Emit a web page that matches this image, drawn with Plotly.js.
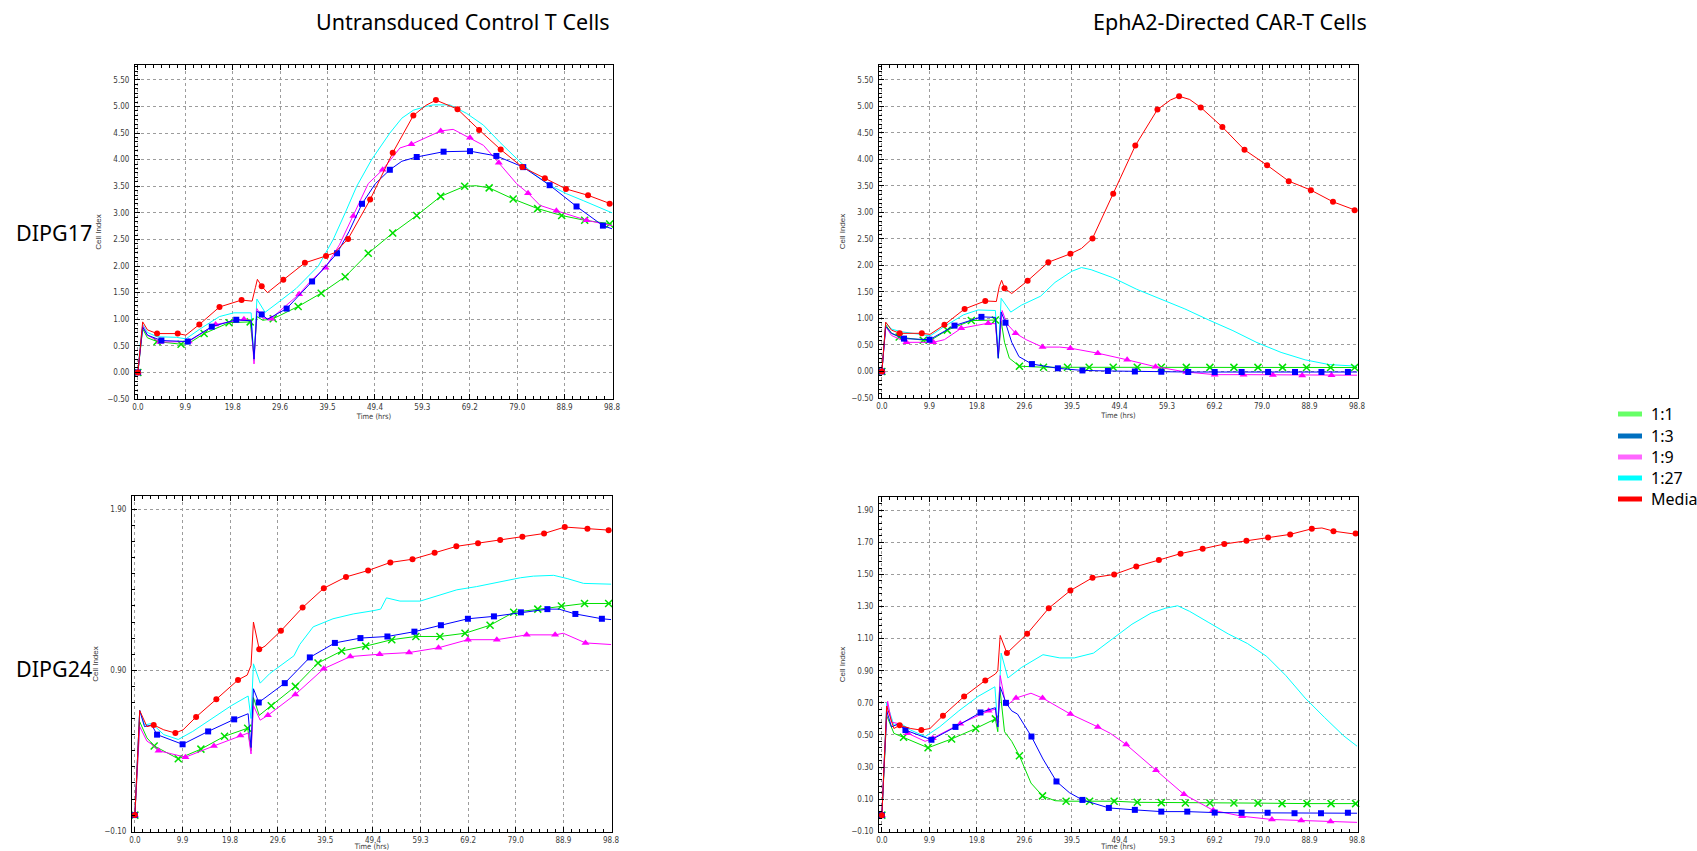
<!DOCTYPE html>
<html>
<head>
<meta charset="utf-8">
<script src="https://cdn.plot.ly/plotly-3.0.1.min.js"></script>
<style>
  html, body { margin: 0; padding: 0; background: #ffffff; }
  #chart { width: 1697px; height: 851px; }
</style>
</head>
<body>
<div id="chart"></div>
<script>
// ---------- labels ----------
const columnTitles = ['Untransduced Control T Cells', 'EphA2-Directed CAR-T Cells'];
const rowTitles = ['DIPG17', 'DIPG24'];
const conditions = ['1:1', '1:3', '1:9', '1:27', 'Media'];

// time axis ticks (hrs) and their printed labels
const timeTicks = [0, 9.88, 19.76, 29.64, 39.52, 49.4, 59.28, 69.16, 79.04, 88.92, 98.8];
const timeTickText = ['0.0', '9.9', '19.8', '29.6', '39.5', '49.4', '59.3', '69.2', '79.0', '88.9', '98.8'];

// ---------- DIPG17, untransduced control T cells ----------
const ctl17_media_t  = [0, 0.5, 1.0, 2.0, 4.0, 8.3, 10.0, 12.8, 17.0, 21.6, 23.8, 24.5, 24.9, 25.8, 27.0, 30.3, 34.8, 39.2, 41.0, 43.8, 48.4, 53.1, 57.4, 60.0, 62.1, 66.6, 71.1, 75.6, 80.1, 84.8, 89.2, 93.8, 98.3, 98.8];
const ctl17_media_ci = [0, 0.55, 0.95, 0.80, 0.73, 0.73, 0.70, 0.90, 1.23, 1.36, 1.34, 1.60, 1.75, 1.62, 1.50, 1.74, 2.06, 2.19, 2.25, 2.51, 3.25, 4.13, 4.83, 5.02, 5.12, 4.95, 4.56, 4.19, 3.86, 3.65, 3.45, 3.33, 3.17, 3.16];
const ctl17_media_mt  = [0, 4.0, 8.3, 12.8, 17.0, 21.6, 25.8, 30.3, 34.8, 39.2, 43.8, 48.4, 53.1, 57.4, 62.1, 66.6, 71.1, 75.6, 80.1, 84.8, 89.2, 93.8, 98.3];
const ctl17_media_mci = [0, 0.73, 0.73, 0.90, 1.23, 1.36, 1.62, 1.74, 2.06, 2.19, 2.51, 3.25, 4.13, 4.83, 5.12, 4.95, 4.56, 4.19, 3.86, 3.65, 3.45, 3.33, 3.17];

const ctl17_r27_t  = [0, 0.5, 1.0, 2.0, 4.0, 8.0, 10.0, 13.0, 17.0, 20.0, 23.6, 24.2, 24.8, 26.5, 29.0, 33.0, 37.6, 40.7, 43.2, 45.6, 48.7, 52.5, 55.0, 57.4, 60.0, 61.6, 65.0, 68.5, 72.0, 75.4, 79.6, 82.4, 85.8, 89.3, 92.8, 98.8];
const ctl17_r27_ci = [0, 0.55, 0.90, 0.75, 0.67, 0.66, 0.63, 0.82, 1.05, 1.12, 1.12, 0.22, 1.38, 1.13, 1.30, 1.58, 2.00, 2.50, 3.00, 3.50, 4.00, 4.50, 4.78, 4.93, 5.00, 5.03, 5.03, 4.87, 4.65, 4.33, 3.96, 3.74, 3.52, 3.36, 3.23, 3.00];

const ctl17_r9_t  = [0, 0.5, 1.0, 2.0, 4.6, 10.6, 13.5, 16.2, 22.1, 23.6, 24.2, 24.8, 26.0, 27.8, 29.5, 33.6, 36.0, 39.1, 42.0, 44.9, 48.0, 51.0, 54.6, 57.0, 63.1, 65.7, 69.2, 72.0, 75.2, 78.9, 81.3, 83.8, 87.2, 93.5, 98.8];
const ctl17_r9_ci = [0, 0.5, 0.88, 0.70, 0.57, 0.58, 0.75, 0.90, 1.00, 0.97, 0.16, 1.20, 1.02, 1.01, 1.15, 1.47, 1.72, 1.97, 2.40, 2.94, 3.55, 3.81, 4.22, 4.29, 4.54, 4.57, 4.41, 4.27, 3.94, 3.55, 3.37, 3.14, 3.04, 2.86, 2.76];
const ctl17_r9_mt  = [0, 4.6, 10.6, 16.2, 22.1, 27.8, 33.6, 39.1, 44.9, 51.0, 57.0, 63.1, 69.2, 75.2, 81.3, 87.2, 93.5];
const ctl17_r9_mci = [0, 0.57, 0.58, 0.90, 1.00, 1.01, 1.47, 1.97, 2.94, 3.81, 4.29, 4.54, 4.41, 3.94, 3.37, 3.04, 2.86];

const ctl17_r3_t  = [0, 0.5, 1.0, 2.0, 4.9, 10.4, 15.4, 20.5, 23.6, 24.2, 24.8, 25.8, 27.0, 31.0, 36.3, 41.5, 44.0, 46.7, 49.5, 52.5, 55.0, 58.1, 63.7, 69.2, 74.7, 80.3, 85.8, 91.4, 96.9, 98.8];
const ctl17_r3_ci = [0, 0.5, 0.85, 0.70, 0.60, 0.58, 0.86, 0.99, 0.97, 0.25, 1.15, 1.09, 1.00, 1.20, 1.71, 2.24, 2.65, 3.17, 3.55, 3.81, 3.97, 4.05, 4.15, 4.16, 4.07, 3.86, 3.52, 3.12, 2.76, 2.70];
const ctl17_r3_mt  = [0, 4.9, 10.4, 15.4, 20.5, 25.8, 31.0, 36.3, 41.5, 46.7, 52.5, 58.1, 63.7, 69.2, 74.7, 80.3, 85.8, 91.4, 96.9];
const ctl17_r3_mci = [0, 0.60, 0.58, 0.86, 0.99, 1.09, 1.20, 1.71, 2.24, 3.17, 3.81, 4.05, 4.15, 4.16, 4.07, 3.86, 3.52, 3.12, 2.76];

const ctl17_r1_t  = [0, 0.5, 1.0, 2.0, 4.0, 9.0, 10.5, 13.8, 19.0, 23.4, 24.2, 24.8, 26.0, 28.2, 33.4, 38.2, 43.2, 48.0, 53.1, 58.1, 63.1, 68.1, 70.5, 73.2, 78.2, 83.3, 88.3, 93.1, 98.3, 98.8];
const ctl17_r1_ci = [0, 0.45, 0.82, 0.65, 0.58, 0.53, 0.54, 0.73, 0.935, 0.95, 0.30, 1.05, 0.98, 1.01, 1.24, 1.49, 1.80, 2.24, 2.62, 2.95, 3.31, 3.50, 3.51, 3.47, 3.26, 3.08, 2.95, 2.86, 2.79, 2.79];
const ctl17_r1_mt  = [0, 4.0, 9.0, 13.8, 19.0, 23.4, 28.2, 33.4, 38.2, 43.2, 48.0, 53.1, 58.1, 63.1, 68.1, 73.2, 78.2, 83.3, 88.3, 93.1, 98.3];
const ctl17_r1_mci = [0, 0.58, 0.53, 0.73, 0.935, 0.95, 1.01, 1.24, 1.49, 1.80, 2.24, 2.62, 2.95, 3.31, 3.50, 3.47, 3.26, 3.08, 2.95, 2.86, 2.79];

// ---------- DIPG17, EphA2-directed CAR-T cells ----------
const car17_media_t  = [0, 0.5, 0.8, 2.0, 3.7, 8.3, 10.0, 13.0, 17.2, 21.5, 23.8, 24.4, 24.9, 25.5, 27.0, 30.3, 34.6, 39.2, 41.5, 43.8, 48.1, 52.7, 57.3, 60.0, 61.8, 64.0, 66.3, 70.8, 75.4, 80.1, 84.6, 89.2, 93.8, 98.3, 98.8];
const car17_media_ci = [0, 0.6, 0.93, 0.78, 0.72, 0.72, 0.70, 0.88, 1.18, 1.33, 1.32, 1.60, 1.72, 1.57, 1.47, 1.71, 2.06, 2.22, 2.32, 2.51, 3.35, 4.26, 4.94, 5.12, 5.19, 5.13, 4.98, 4.61, 4.18, 3.89, 3.59, 3.42, 3.20, 3.04, 3.03];
const car17_media_mt  = [0, 3.7, 8.3, 13.0, 17.2, 21.5, 25.5, 30.3, 34.6, 39.2, 43.8, 48.1, 52.7, 57.3, 61.8, 66.3, 70.8, 75.4, 80.1, 84.6, 89.2, 93.8, 98.3];
const car17_media_mci = [0, 0.72, 0.72, 0.88, 1.18, 1.33, 1.57, 1.71, 2.06, 2.22, 2.51, 3.35, 4.26, 4.94, 5.19, 4.98, 4.61, 4.18, 3.89, 3.59, 3.42, 3.20, 3.04];

const car17_r27_t  = [0, 0.5, 0.8, 2.0, 4.0, 8.0, 10.0, 13.0, 17.0, 20.0, 23.6, 24.2, 24.8, 26.8, 29.0, 33.0, 36.0, 39.5, 41.5, 43.5, 48.0, 53.0, 58.0, 63.0, 68.0, 73.0, 78.0, 83.0, 88.0, 93.0, 98.8];
const car17_r27_ci = [0, 0.6, 0.92, 0.80, 0.75, 0.70, 0.67, 0.85, 1.07, 1.16, 1.15, 0.28, 1.38, 1.12, 1.25, 1.42, 1.68, 1.89, 1.96, 1.92, 1.77, 1.55, 1.36, 1.18, 0.97, 0.77, 0.545, 0.36, 0.22, 0.13, 0.10];

const car17_r9_t  = [0, 0.5, 0.8, 2.0, 5.1, 10.7, 13.0, 16.5, 22.1, 23.6, 24.2, 25.0, 26.0, 27.8, 30.0, 33.4, 37.0, 39.2, 44.9, 51.0, 56.9, 63.3, 69.2, 75.2, 81.3, 87.4, 93.5, 98.8];
const car17_r9_ci = [0, 0.55, 0.85, 0.68, 0.55, 0.55, 0.60, 0.815, 0.91, 0.90, 0.30, 1.15, 0.90, 0.72, 0.60, 0.46, 0.46, 0.44, 0.345, 0.22, 0.09, -0.01, -0.06, -0.06, -0.065, -0.075, -0.07, -0.07];
const car17_r9_mt  = [0, 5.1, 10.7, 16.5, 22.1, 27.8, 33.4, 39.2, 44.9, 51.0, 56.9, 63.3, 69.2, 75.2, 81.3, 87.4, 93.5];
const car17_r9_mci = [0, 0.55, 0.55, 0.815, 0.91, 0.72, 0.46, 0.44, 0.345, 0.22, 0.09, -0.01, -0.06, -0.06, -0.065, -0.075, -0.07];

const car17_r3_t  = [0, 0.5, 0.8, 2.0, 4.6, 9.9, 15.1, 20.7, 23.6, 24.2, 24.8, 25.7, 27.0, 28.5, 31.2, 36.6, 41.7, 47.0, 52.6, 58.1, 63.7, 98.8];
const car17_r3_ci = [0, 0.55, 0.85, 0.72, 0.62, 0.60, 0.865, 1.03, 1.02, 0.25, 1.12, 0.92, 0.55, 0.28, 0.14, 0.06, 0.02, 0.01, 0.0, -0.005, -0.01, -0.01];
const car17_r3_mt  = [0, 4.6, 9.9, 15.1, 20.7, 25.7, 31.2, 36.6, 41.7, 47.0, 52.6, 58.1, 63.7, 69.2, 74.8, 80.3, 85.9, 91.4, 96.9];
const car17_r3_mci = [0, 0.62, 0.60, 0.865, 1.03, 0.92, 0.14, 0.06, 0.02, 0.01, 0.0, -0.005, -0.01, -0.01, -0.01, -0.01, -0.01, -0.01, -0.01];

const car17_r1_t  = [0, 0.5, 0.8, 2.0, 3.6, 8.6, 10.0, 13.6, 18.6, 23.6, 24.2, 24.8, 25.5, 26.5, 28.6, 33.6, 38.6, 63.3, 98.8];
const car17_r1_ci = [0, 0.58, 0.88, 0.72, 0.65, 0.59, 0.58, 0.78, 0.96, 0.97, 0.25, 0.95, 0.55, 0.25, 0.10, 0.08, 0.08, 0.078, 0.075];
const car17_r1_mt  = [0, 3.6, 8.6, 13.6, 18.6, 23.6, 28.6, 33.6, 38.6, 43.1, 48.1, 53.1, 58.1, 63.3, 68.2, 73.2, 78.2, 83.3, 88.3, 93.3, 98.3];
const car17_r1_mci = [0, 0.65, 0.59, 0.78, 0.96, 0.97, 0.10, 0.08, 0.08, 0.08, 0.08, 0.08, 0.08, 0.078, 0.078, 0.078, 0.077, 0.077, 0.076, 0.076, 0.075];

// ---------- DIPG24, untransduced control T cells ----------
const ctl24_media_t  = [0, 0.5, 1.0, 2.5, 3.9, 6.0, 8.4, 10.0, 12.7, 16.9, 21.4, 23.3, 24.1, 24.6, 25.8, 27.0, 30.3, 34.8, 39.2, 43.8, 48.4, 53.0, 57.6, 62.2, 66.7, 71.2, 75.8, 80.4, 84.9, 89.2, 93.9, 98.3, 98.8];
const ctl24_media_ci = [0, 0.35, 0.65, 0.55, 0.56, 0.53, 0.51, 0.53, 0.61, 0.72, 0.84, 0.87, 0.93, 1.20, 1.03, 1.05, 1.145, 1.29, 1.41, 1.48, 1.52, 1.57, 1.59, 1.63, 1.67, 1.69, 1.71, 1.73, 1.75, 1.79, 1.78, 1.77, 1.77];
const ctl24_media_mt  = [0, 3.9, 8.4, 12.7, 16.9, 21.4, 25.8, 30.3, 34.8, 39.2, 43.8, 48.4, 53.0, 57.6, 62.2, 66.7, 71.2, 75.8, 80.4, 84.9, 89.2, 93.9, 98.3];
const ctl24_media_mci = [0, 0.56, 0.51, 0.61, 0.72, 0.84, 1.03, 1.145, 1.29, 1.41, 1.48, 1.52, 1.57, 1.59, 1.63, 1.67, 1.69, 1.71, 1.73, 1.75, 1.79, 1.78, 1.77];

const ctl24_r27_t  = [0, 0.5, 1.0, 2.0, 3.5, 6.0, 9.0, 12.0, 16.0, 20.0, 23.5, 24.1, 24.6, 26.0, 28.0, 33.0, 34.2, 37.0, 41.1, 45.3, 49.4, 51.0, 52.2, 55.0, 59.2, 63.3, 66.8, 70.9, 75.8, 80.0, 82.7, 86.9, 89.7, 93.1, 98.8];
const ctl24_r27_ci = [0, 0.35, 0.65, 0.56, 0.57, 0.50, 0.47, 0.52, 0.60, 0.68, 0.74, 0.60, 0.94, 0.82, 0.88, 0.99, 1.06, 1.17, 1.22, 1.25, 1.27, 1.28, 1.35, 1.33, 1.33, 1.37, 1.40, 1.42, 1.45, 1.475, 1.485, 1.49, 1.47, 1.44, 1.435];

const ctl24_r9_t  = [0, 0.5, 1.0, 2.5, 3.5, 4.9, 10.5, 16.4, 21.9, 23.5, 24.1, 24.6, 26.0, 27.6, 33.3, 39.2, 44.7, 50.8, 56.9, 63.0, 69.1, 75.1, 81.3, 87.2, 88.9, 93.5, 98.8];
const ctl24_r9_ci = [0, 0.28, 0.55, 0.46, 0.44, 0.40, 0.36, 0.43, 0.495, 0.51, 0.38, 0.68, 0.59, 0.62, 0.75, 0.91, 0.985, 1.00, 1.01, 1.04, 1.09, 1.09, 1.12, 1.12, 1.13, 1.07, 1.06];
const ctl24_r9_mt  = [0, 4.9, 10.5, 16.4, 21.9, 27.6, 33.3, 39.2, 44.7, 50.8, 56.9, 63.0, 69.1, 75.1, 81.3, 87.2, 93.5];
const ctl24_r9_mci = [0, 0.40, 0.36, 0.43, 0.495, 0.62, 0.75, 0.91, 0.985, 1.00, 1.01, 1.04, 1.09, 1.09, 1.12, 1.12, 1.07];

const ctl24_r3_t  = [0, 0.5, 1.0, 2.0, 3.5, 4.6, 9.9, 15.2, 20.6, 23.5, 24.1, 24.6, 25.7, 31.1, 36.3, 41.5, 46.8, 52.4, 58.0, 63.5, 69.1, 74.5, 80.1, 85.6, 88.0, 91.4, 96.9, 98.8];
const ctl24_r3_ci = [0, 0.35, 0.65, 0.55, 0.56, 0.50, 0.44, 0.52, 0.595, 0.63, 0.42, 0.785, 0.70, 0.82, 0.98, 1.07, 1.10, 1.11, 1.14, 1.18, 1.22, 1.235, 1.26, 1.28, 1.28, 1.25, 1.22, 1.215];
const ctl24_r3_mt  = [0, 4.6, 9.9, 15.2, 20.6, 25.7, 31.1, 36.3, 41.5, 46.8, 52.4, 58.0, 63.5, 69.1, 74.5, 80.1, 85.6, 91.4, 96.9];
const ctl24_r3_mci = [0, 0.50, 0.44, 0.52, 0.595, 0.70, 0.82, 0.98, 1.07, 1.10, 1.11, 1.14, 1.18, 1.22, 1.235, 1.26, 1.28, 1.25, 1.22];

const ctl24_r1_t  = [0, 0.5, 1.0, 2.5, 3.5, 4.0, 9.0, 13.7, 18.6, 23.4, 24.1, 24.6, 25.8, 28.3, 33.3, 38.0, 42.9, 47.9, 53.3, 58.3, 63.3, 68.5, 73.7, 78.6, 83.6, 88.5, 93.3, 98.8];
const ctl24_r1_ci = [0, 0.30, 0.58, 0.48, 0.45, 0.43, 0.35, 0.41, 0.49, 0.54, 0.40, 0.73, 0.62, 0.68, 0.80, 0.945, 1.02, 1.05, 1.09, 1.11, 1.11, 1.13, 1.18, 1.26, 1.28, 1.30, 1.315, 1.315];
const ctl24_r1_mt  = [0, 4.0, 9.0, 13.7, 18.6, 23.4, 28.3, 33.3, 38.0, 42.9, 47.9, 53.3, 58.3, 63.3, 68.5, 73.7, 78.6, 83.6, 88.5, 93.3, 98.3];
const ctl24_r1_mci = [0, 0.43, 0.35, 0.41, 0.49, 0.54, 0.68, 0.80, 0.945, 1.02, 1.05, 1.09, 1.11, 1.11, 1.13, 1.18, 1.26, 1.28, 1.30, 1.315, 1.315];

// ---------- DIPG24, EphA2-directed CAR-T cells ----------
const car24_media_t  = [0, 0.5, 1.0, 2.5, 3.7, 6.0, 8.2, 10.0, 12.7, 17.1, 21.5, 23.6, 24.1, 24.6, 26.0, 30.2, 34.7, 39.2, 43.8, 48.3, 52.9, 57.6, 62.1, 66.7, 71.2, 75.8, 80.3, 84.9, 89.4, 91.5, 93.9, 98.5, 98.8];
const car24_media_ci = [0, 0.35, 0.68, 0.54, 0.56, 0.54, 0.53, 0.54, 0.62, 0.74, 0.84, 0.88, 0.90, 1.12, 1.01, 1.13, 1.29, 1.40, 1.48, 1.50, 1.55, 1.59, 1.63, 1.66, 1.69, 1.71, 1.73, 1.75, 1.785, 1.79, 1.77, 1.755, 1.75];
const car24_media_mt  = [0, 3.7, 8.2, 12.7, 17.1, 21.5, 26.0, 30.2, 34.7, 39.2, 43.8, 48.3, 52.9, 57.6, 62.1, 66.7, 71.2, 75.8, 80.3, 84.9, 89.4, 93.9, 98.5];
const car24_media_mci = [0, 0.56, 0.53, 0.62, 0.74, 0.84, 1.01, 1.13, 1.29, 1.40, 1.48, 1.50, 1.55, 1.59, 1.63, 1.66, 1.69, 1.71, 1.73, 1.75, 1.785, 1.77, 1.755];

const car24_r27_t  = [0, 0.5, 1.0, 2.5, 4.0, 6.0, 9.0, 12.0, 16.0, 20.0, 23.5, 24.1, 24.8, 26.2, 29.0, 33.5, 37.0, 40.0, 44.0, 48.0, 52.0, 56.0, 59.0, 61.5, 64.0, 68.0, 72.0, 76.0, 80.0, 84.0, 88.0, 92.0, 96.0, 98.8];
const car24_r27_ci = [0, 0.35, 0.70, 0.56, 0.57, 0.53, 0.49, 0.55, 0.65, 0.74, 0.80, 0.55, 1.01, 0.855, 0.92, 1.00, 0.98, 0.98, 1.01, 1.10, 1.19, 1.26, 1.29, 1.305, 1.27, 1.20, 1.13, 1.07, 0.99, 0.87, 0.73, 0.61, 0.495, 0.43];

const car24_r9_t  = [0, 0.5, 1.2, 2.0, 3.5, 5.4, 9.0, 10.6, 16.3, 22.2, 23.6, 24.1, 24.6, 25.8, 27.9, 31.0, 33.4, 39.2, 44.9, 47.5, 50.8, 57.0, 62.8, 68.9, 74.9, 81.1, 87.2, 93.3, 98.8];
const car24_r9_ci = [0, 0.35, 0.71, 0.58, 0.57, 0.51, 0.46, 0.48, 0.57, 0.65, 0.66, 0.55, 0.87, 0.68, 0.73, 0.76, 0.73, 0.63, 0.55, 0.51, 0.44, 0.28, 0.13, 0.03, -0.007, -0.027, -0.033, -0.04, -0.045];
const car24_r9_mt  = [0, 5.4, 10.6, 16.3, 22.2, 27.9, 33.4, 39.2, 44.9, 50.8, 57.0, 62.8, 68.9, 74.9, 81.1, 87.2, 93.3];
const car24_r9_mci = [0, 0.51, 0.48, 0.57, 0.65, 0.73, 0.73, 0.63, 0.55, 0.44, 0.28, 0.13, 0.03, -0.007, -0.027, -0.033, -0.04];

const car24_r3_t  = [0, 0.5, 1.0, 2.0, 3.5, 4.9, 10.3, 15.3, 20.5, 23.6, 24.1, 24.6, 25.8, 27.0, 28.2, 31.1, 33.5, 36.3, 39.0, 41.7, 47.2, 52.6, 58.1, 63.5, 69.2, 74.8, 80.2, 85.8, 91.3, 96.9, 98.8];
const car24_r3_ci = [0, 0.35, 0.65, 0.55, 0.57, 0.53, 0.47, 0.55, 0.64, 0.67, 0.55, 0.80, 0.70, 0.65, 0.63, 0.49, 0.35, 0.21, 0.14, 0.095, 0.045, 0.033, 0.022, 0.022, 0.016, 0.015, 0.015, 0.012, 0.012, 0.015, 0.012];
const car24_r3_mt  = [0, 4.9, 10.3, 15.3, 20.5, 25.8, 31.1, 36.3, 41.7, 47.2, 52.6, 58.1, 63.5, 69.2, 74.8, 80.2, 85.8, 91.3, 96.9];
const car24_r3_mci = [0, 0.53, 0.47, 0.55, 0.64, 0.70, 0.49, 0.21, 0.095, 0.045, 0.033, 0.022, 0.022, 0.016, 0.015, 0.015, 0.012, 0.012, 0.015];

const car24_r1_t  = [0, 0.5, 1.0, 2.5, 4.5, 9.6, 14.5, 19.5, 23.6, 24.1, 24.5, 25.5, 27.0, 28.6, 31.0, 33.4, 36.0, 38.3, 43.2, 48.3, 53.1, 58.1, 63.1, 68.2, 73.2, 78.2, 83.2, 88.4, 93.4, 98.8];
const car24_r1_ci = [0, 0.30, 0.62, 0.51, 0.485, 0.42, 0.475, 0.54, 0.60, 0.52, 0.80, 0.52, 0.46, 0.37, 0.20, 0.12, 0.09, 0.087, 0.087, 0.087, 0.08, 0.078, 0.076, 0.076, 0.076, 0.075, 0.072, 0.072, 0.072, 0.072];
const car24_r1_mt  = [0, 4.5, 9.6, 14.5, 19.5, 23.6, 28.6, 33.4, 38.3, 43.2, 48.3, 53.1, 58.1, 63.1, 68.2, 73.2, 78.2, 83.2, 88.4, 93.4, 98.5];
const car24_r1_mci = [0, 0.485, 0.42, 0.475, 0.54, 0.60, 0.37, 0.12, 0.087, 0.087, 0.087, 0.08, 0.078, 0.076, 0.076, 0.076, 0.075, 0.072, 0.072, 0.072, 0.072];

// ---------- styling ----------
const STYLE = {
  '1:1':   { line: '#00e000', symbol: 'x-thin-open', size: 7, swatch: '#66ff66' },
  '1:3':   { line: '#0000ff', symbol: 'square',      size: 6, swatch: '#0070c0' },
  '1:9':   { line: '#ff00ff', symbol: 'triangle-up', size: 7, swatch: '#ff66ff' },
  '1:27':  { line: '#00ffff', symbol: null,          size: 0, swatch: '#00ffff' },
  'Media': { line: '#ff0000', symbol: 'circle',      size: 6, swatch: '#ff0000' }
};
const DRAW_ORDER = ['1:27', '1:1', '1:9', '1:3', 'Media'];

const panels = [
  { x: 'x',  y: 'y',  series: {
      '1:1':   [ctl17_r1_t, ctl17_r1_ci, ctl17_r1_mt, ctl17_r1_mci],
      '1:3':   [ctl17_r3_t, ctl17_r3_ci, ctl17_r3_mt, ctl17_r3_mci],
      '1:9':   [ctl17_r9_t, ctl17_r9_ci, ctl17_r9_mt, ctl17_r9_mci],
      '1:27':  [ctl17_r27_t, ctl17_r27_ci],
      'Media': [ctl17_media_t, ctl17_media_ci, ctl17_media_mt, ctl17_media_mci] } },
  { x: 'x2', y: 'y2', series: {
      '1:1':   [car17_r1_t, car17_r1_ci, car17_r1_mt, car17_r1_mci],
      '1:3':   [car17_r3_t, car17_r3_ci, car17_r3_mt, car17_r3_mci],
      '1:9':   [car17_r9_t, car17_r9_ci, car17_r9_mt, car17_r9_mci],
      '1:27':  [car17_r27_t, car17_r27_ci],
      'Media': [car17_media_t, car17_media_ci, car17_media_mt, car17_media_mci] } },
  { x: 'x3', y: 'y3', series: {
      '1:1':   [ctl24_r1_t, ctl24_r1_ci, ctl24_r1_mt, ctl24_r1_mci],
      '1:3':   [ctl24_r3_t, ctl24_r3_ci, ctl24_r3_mt, ctl24_r3_mci],
      '1:9':   [ctl24_r9_t, ctl24_r9_ci, ctl24_r9_mt, ctl24_r9_mci],
      '1:27':  [ctl24_r27_t, ctl24_r27_ci],
      'Media': [ctl24_media_t, ctl24_media_ci, ctl24_media_mt, ctl24_media_mci] } },
  { x: 'x4', y: 'y4', series: {
      '1:1':   [car24_r1_t, car24_r1_ci, car24_r1_mt, car24_r1_mci],
      '1:3':   [car24_r3_t, car24_r3_ci, car24_r3_mt, car24_r3_mci],
      '1:9':   [car24_r9_t, car24_r9_ci, car24_r9_mt, car24_r9_mci],
      '1:27':  [car24_r27_t, car24_r27_ci],
      'Media': [car24_media_t, car24_media_ci, car24_media_mt, car24_media_mci] } }
];

const traces = [];
panels.forEach(p => {
  DRAW_ORDER.forEach(cond => {
    const s = STYLE[cond];
    const d = p.series[cond];
    traces.push({
      type: 'scatter', mode: 'lines', name: cond, showlegend: false,
      x: d[0], y: d[1], xaxis: p.x, yaxis: p.y,
      line: { color: s.line, width: 1 }, hoverinfo: 'skip'
    });
    if (s.symbol && d[2]) {
      traces.push({
        type: 'scatter', mode: 'markers', name: cond, showlegend: false,
        x: d[2], y: d[3], xaxis: p.x, yaxis: p.y, cliponaxis: false,
        marker: { symbol: s.symbol, size: s.size, color: s.line,
                  line: { color: s.line, width: s.symbol === 'x-thin-open' ? 1.5 : 0 } },
        hoverinfo: 'skip'
      });
    }
  });
});

// ---------- layout ----------
const W = 1697, H = 851;
const fx = v => v / W;          // pixel -> paper (x)
const fy = v => 1 - v / H;      // pixel -> paper (y)

const NARROW = 'Liberation Sans Narrow, DejaVu Sans Condensed, Arial Narrow, sans-serif';
const tickFont = { family: NARROW, size: 8, color: '#3a3a3a' };
const timeTitleFont = { family: NARROW, size: 7.5, color: '#3a3a3a' };
const ciTitleFont = { family: 'Liberation Sans, Arial, sans-serif', size: 8, color: '#3a3a3a' };

function timeAxis(domain, anchor) {
  return {
    domain: domain, anchor: anchor, range: [-0.6, 99.0],
    tickmode: 'array', tickvals: timeTicks, ticktext: timeTickText,
    ticks: 'inside', ticklen: 5, tickcolor: '#000', tickwidth: 1,
    showline: true, linecolor: '#000', linewidth: 1, mirror: 'ticks',
    showgrid: true, gridcolor: '#9c9c9c', griddash: 'dot', gridwidth: 1,
    zeroline: false, tickfont: tickFont,
    minor: { tick0: 0, dtick: 9.88 / 6, ticks: 'inside', ticklen: 3, tickcolor: '#000', showgrid: false },
    title: { text: 'Time (hrs)', font: timeTitleFont, standoff: 1 },
    fixedrange: true
  };
}
function ciAxis(domain, anchor, range, tick0, dtick, minorStep) {
  return {
    domain: domain, anchor: anchor, range: range,
    tickmode: 'linear', tick0: tick0, dtick: dtick, tickformat: '.2f',
    ticks: 'inside', ticklen: 5, tickcolor: '#000', tickwidth: 1,
    showline: true, linecolor: '#000', linewidth: 1, mirror: true,
    showgrid: true, gridcolor: '#9c9c9c', griddash: 'dot', gridwidth: 1,
    zeroline: false, tickfont: tickFont, ticklabelstandoff: 3,
    minor: { tick0: tick0, dtick: minorStep, ticks: 'inside', ticklen: 3, tickcolor: '#000', showgrid: false },
    title: { text: 'Cell Index', font: ciTitleFont, standoff: 4 },
    fixedrange: true
  };
}

const annotations = [
  { text: columnTitles[0], x: fx(463), y: fy(21) },
  { text: columnTitles[1], x: fx(1230), y: fy(21) },
  { text: rowTitles[0], x: fx(54), y: fy(232) },
  { text: rowTitles[1], x: fx(54), y: fy(668) }
].map(a => Object.assign({
  xref: 'paper', yref: 'paper', xanchor: 'center', yanchor: 'middle', showarrow: false,
  font: { family: 'Noto Sans, Open Sans, sans-serif', size: 21.5, color: '#000' }
}, a));

// legend: coloured bars with labels to the right of the panels
const legendRowsY = [414, 436, 457, 478, 499];
const shapes = [];
conditions.forEach((cond, i) => {
  shapes.push({
    type: 'line', xref: 'paper', yref: 'paper',
    x0: fx(1618), x1: fx(1642), y0: fy(legendRowsY[i]), y1: fy(legendRowsY[i]),
    line: { color: STYLE[cond].swatch, width: 5 }
  });
  annotations.push({
    text: cond, xref: 'paper', yref: 'paper', x: fx(1649), y: fy(legendRowsY[i]),
    xanchor: 'left', yanchor: 'middle', showarrow: false,
    font: { family: 'Noto Sans, Open Sans, sans-serif', size: 16, color: '#000' }
  });
});

const layout = {
  width: W, height: H, autosize: false,
  margin: { l: 0, r: 0, t: 0, b: 0, pad: 0 },
  paper_bgcolor: '#ffffff', plot_bgcolor: '#ffffff',
  showlegend: false,
  xaxis:  timeAxis([fx(135), fx(613)], 'y'),
  xaxis2: timeAxis([fx(879), fx(1358)], 'y2'),
  xaxis3: timeAxis([fx(132), fx(612)], 'y3'),
  xaxis4: timeAxis([fx(879), fx(1358)], 'y4'),
  yaxis:  ciAxis([fy(399), fy(65)], 'x',  [-0.5, 5.78], -0.5, 0.5, 0.5 / 6),
  yaxis2: ciAxis([fy(398), fy(65)], 'x2', [-0.5, 5.78], -0.5, 0.5, 0.5 / 6),
  yaxis3: ciAxis([fy(832), fy(496)], 'x3', [-0.105, 1.983], -0.1, 1.0, 0.1),
  yaxis4: ciAxis([fy(832), fy(497)], 'x4', [-0.105, 1.983], -0.1, 0.2, 0.04),
  annotations: annotations,
  shapes: shapes
};

Plotly.newPlot('chart', traces, layout, { staticPlot: true, displayModeBar: false });
</script>
</body>
</html>
